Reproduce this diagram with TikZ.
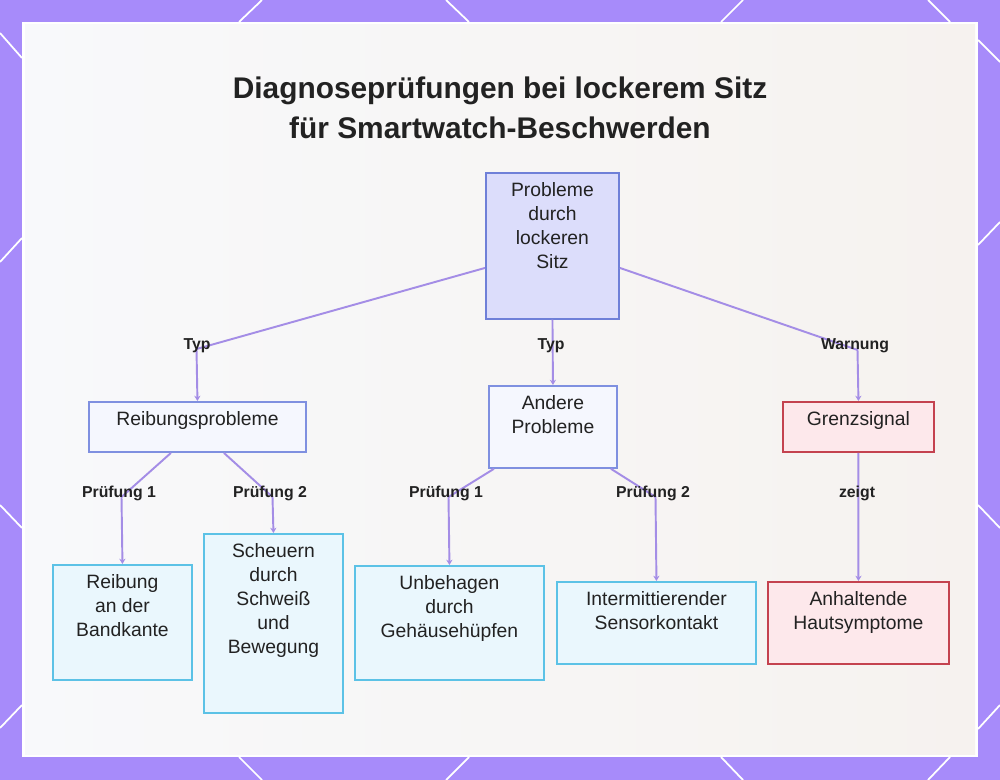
\documentclass[tikz,border=0pt]{standalone}
\usepackage{fontspec}
\setmainfont{Liberation Sans}
\usetikzlibrary{arrows.meta,positioning,calc}

\definecolor{framec}{HTML}{A78BFA}
\definecolor{panelc}{HTML}{F8F9FB}
\definecolor{warmc}{HTML}{F6F2EF}
\definecolor{edgec}{HTML}{A48DE6}
\definecolor{rootfill}{HTML}{DCDDFB}
\definecolor{rootline}{HTML}{6F80D8}
\definecolor{midfill}{HTML}{F5F7FE}
\definecolor{midline}{HTML}{7F90E0}
\definecolor{leaffill}{HTML}{EAF7FD}
\definecolor{leafline}{HTML}{5CC2E6}
\definecolor{warnfill}{HTML}{FDE8EB}
\definecolor{warnline}{HTML}{C4424F}
\definecolor{ink}{HTML}{222222}

\begin{document}
\begin{tikzpicture}[
    x=0.02cm, y=-0.02cm,
    box/.style={rectangle,anchor=north west,align=center,inner xsep=2pt,inner ysep=0.2cm,font=\fontsize{11}{13.6}\selectfont,text=ink,line width=1.1pt},
    rootbox/.style={box,draw=rootline,fill=rootfill},
    midbox/.style={box,draw=midline,fill=midfill},
    leafbox/.style={box,draw=leafline,fill=leaffill},
    warnbox/.style={box,draw=warnline,fill=warnfill},
    edge/.style={edgec,line width=1.1pt,-{Stealth[length=3pt,width=3.5pt]}},
    tag/.style={font=\bfseries\fontsize{9}{11}\selectfont,text=ink,anchor=base,inner sep=1pt},
    title/.style={font=\bfseries\fontsize{17}{22.7}\selectfont,text=ink,align=center,anchor=north,inner sep=0pt},
    deco/.style={white,line width=1pt}
]
\useasboundingbox (0,0) rectangle (1000,780);
% frame and panel
\fill[framec] (0,0) rectangle (1000,780);
\foreach \a/\b/\c/\d in {239/22/262/0, 446/0/469/22, 721/22/743/0, 928/0/950/22,
    239/757/262/780, 446/780/469/757, 721/757/743/780, 928/780/950/757,
    0/33/22/58, 0/262/22/238, 0/505/22/528, 0/728/22/705,
    978/40/1000/62, 978/245/1000/222, 978/505/1000/528, 978/729/1000/705}
  \draw[deco] (\a,\b) -- (\c,\d);
\fill[white] (22,22) rectangle (978,757);
\shade[left color=panelc,right color=warmc] (25,25) rectangle (975,754);

\node[title] (title) at (500,77) {Diagnoseprüfungen bei lockerem Sitz\\für Smartwatch-Beschwerden};

% boxes
\node[rootbox,minimum width=2.66cm,text depth=0.8cm] (root) at (485,172) {Probleme\\durch\\lockeren\\Sitz};
\node[midbox,minimum width=4.34cm,text depth=0.32cm] (reib) at (88,401) {Reibungsprobleme};
\node[midbox,minimum width=2.56cm,text depth=0.48cm] (andere) at (488,385) {Andere\\Probleme};
\node[warnbox,minimum width=3.02cm,text depth=0.32cm] (grenz) at (782,401) {Grenzsignal};
\node[leafbox,minimum width=2.78cm,text depth=0.66cm] (kante) at (52,564) {Reibung\\an der\\Bandkante};
\node[leafbox,minimum width=2.78cm,text depth=0.98cm] (schweiss) at (203,533) {Scheuern\\durch\\Schweiß\\und\\Bewegung};
\node[leafbox,minimum width=3.78cm,text depth=0.64cm] (huepfen) at (354,565) {Unbehagen\\durch\\Gehäusehüpfen};
\node[leafbox,minimum width=3.98cm,text depth=0.48cm] (sensor) at (556,581) {Intermittierender\\Sensorkontakt};
\node[warnbox,minimum width=3.62cm,text depth=0.48cm] (haut) at (767,581) {Anhaltende\\Hautsymptome};

% bends
\coordinate (bTypA) at (196.5,349);
\coordinate (bWarn) at (857.5,350);
\coordinate (bP1a) at (121.5,497);
\coordinate (bP2a) at (272.5,497);
\coordinate (bP1b) at (448.5,497);
\coordinate (bP2b) at (655.5,497);

% connectors
\draw[edge] ($(root.north west)!0.65!(root.south west)$) -- (bTypA) -- (reib.north);
\draw[edge] (root.south) -- (andere.north);
\draw[edge] ($(root.north east)!0.65!(root.south east)$) -- (bWarn) -- (grenz.north);
\draw[edge] ($(reib.south)+(-26.5,0)$) -- (bP1a) -- (kante.north);
\draw[edge] ($(reib.south)+(26.5,0)$) -- (bP2a) -- (schweiss.north);
\draw[edge] ($(andere.south)+(-59,0)$) -- (bP1b) -- (huepfen.north);
\draw[edge] ($(andere.south)+(58,0)$) -- (bP2b) -- (sensor.north);
\draw[edge] (grenz) -- (haut);

% labels
\node[tag] (tTypA) at (197,349) {Typ};
\node[tag] (tTypB) at (551,349) {Typ};
\node[tag] (tWarn) at (855,349) {Warnung};
\node[tag] (tP1a) at (119,497) {Prüfung 1};
\node[tag] (tP2a) at (270,497) {Prüfung 2};
\node[tag] (tP1b) at (446,497) {Prüfung 1};
\node[tag] (tP2b) at (653,497) {Prüfung 2};
\node[tag] (tZeigt) at (857,497) {zeigt};
\end{tikzpicture}
\end{document}
